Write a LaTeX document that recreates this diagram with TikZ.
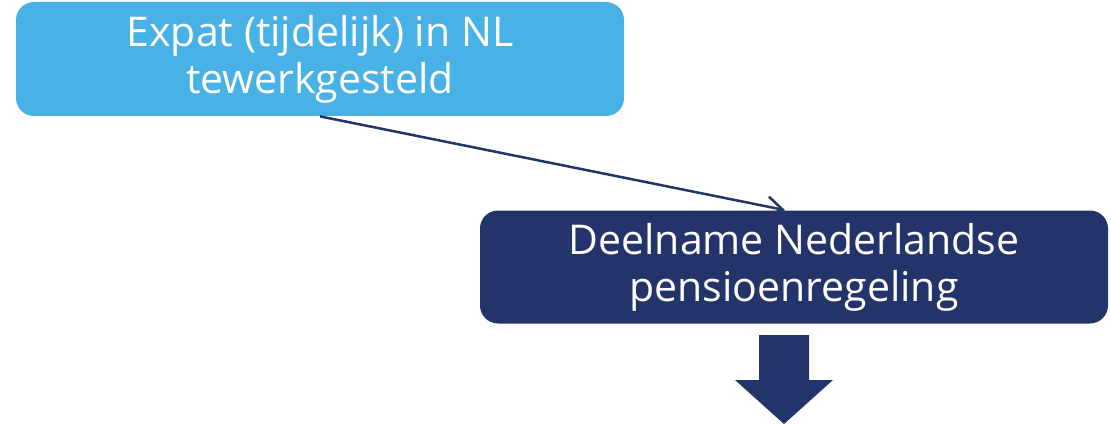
\documentclass[tikz,border=0pt]{standalone}
\usepackage{fontspec}
\setmainfont{Open Sans}
\usetikzlibrary{arrows.meta}

\definecolor{expatblue}{RGB}{72,178,230}
\definecolor{navy}{RGB}{35,52,106}

\tikzset{every picture/.style={line width=0.75pt}}
\tikzset{
  flowbox/.style={rounded corners=18pt, text=white, align=center,
    font=\fontsize{41}{47}\selectfont, inner sep=0pt},
  flowline/.style={draw=navy, line width=2.5pt, -{Straight Barb[length=16pt,width=20pt]}}
}

\begin{document}
\begin{tikzpicture}[x=1pt,y=1pt,yscale=-1]
    \useasboundingbox (0,0) rectangle (1111,425);

    % Shape: top box
    \node (expat) [flowbox, fill=expatblue, minimum width=608pt, minimum height=114pt] at (320,59)
        {Expat (tijdelijk) in NL\\tewerkgesteld};

    % Shape: bottom box
    \node (deelname) [flowbox, fill=navy, minimum width=628pt, minimum height=113pt] at (794,267)
        {Deelname Nederlandse\\pensioenregeling};

    % Straight Lines
    \draw [flowline] (expat.south) -- ([xshift=-9pt]deelname.north);

    % Shape: block arrow
    \coordinate (pijl) at (784,335);
    \fill [navy] (pijl) ++(-25,0) -- ++(50,0) -- ++(0,45) -- ++(24,0) -- (784,424)
        -- (735,380) -- (759,380) -- cycle;

\end{tikzpicture}
\end{document}
